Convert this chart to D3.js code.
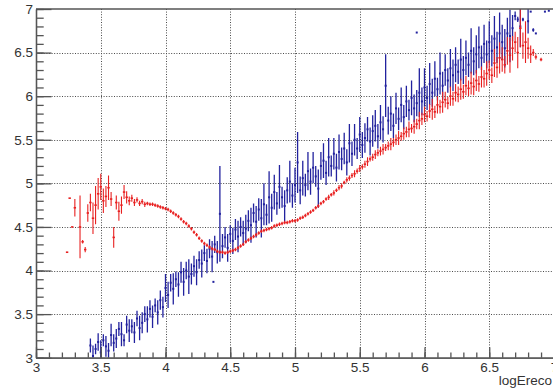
<!DOCTYPE html>
<html><head><meta charset="utf-8">
<script src="https://cdn.jsdelivr.net/npm/d3@7/dist/d3.min.js"></script>
<style>body{margin:0;background:#fff}svg{display:block}text{font-family:"Liberation Sans",Arial,Helvetica,sans-serif}</style>
</head><body>
<svg id="c" width="553" height="391"></svg>
<script>
// ---- axis ticks ----
const xTicks = [3, 3.5, 4, 4.5, 5, 5.5, 6, 6.5, 7];
const yTicks = [3, 3.5, 4, 4.5, 5, 5.5, 6, 6.5, 7];
const xTitle = "logEreco";

// ---- red series (bin centres start at 3.24, width 0.02) ----
const redStart = 3.24, redStep = 0.02;
const redY = [
 4.21,4.83,4.50,4.72,null,4.50,4.33,4.24,4.66,4.78,
 4.60,4.75,4.88,4.96,4.80,4.85,4.95,4.82,4.38,4.78,
 4.68,4.75,4.90,4.84,4.80,4.83,4.78,4.81,4.77,4.79,
 4.76,4.77,4.76,4.76,4.75,4.74,4.73,4.72,4.71,4.70,
 4.68,4.66,4.64,4.62,4.59,4.56,4.54,4.51,4.48,4.44,
 4.41,4.37,4.34,4.31,4.29,4.27,4.25,4.24,4.22,4.21,
 4.21,4.20,4.21,4.22,4.23,4.24,4.26,4.28,4.30,4.33,
 4.35,4.37,4.39,4.41,4.43,4.45,4.46,4.47,4.48,4.49,
 4.51,4.52,4.53,4.54,4.55,4.55,4.56,4.57,4.57,4.58,
 4.60,4.61,4.63,4.65,4.67,4.69,4.72,4.74,4.77,4.79,
 4.82,4.84,4.87,4.89,4.92,4.95,4.97,5.01,5.04,5.06,
 5.09,5.11,5.14,5.17,5.19,5.22,5.25,5.28,5.30,5.33,
 5.35,5.37,5.39,5.41,5.43,5.45,5.47,5.50,5.52,5.54,
 5.57,5.59,5.62,5.63,5.65,5.68,5.72,5.74,5.79,5.77,
 5.83,5.85,5.82,5.90,5.88,5.93,5.96,5.92,6.00,5.97,
 6.04,6.02,6.08,6.05,6.12,6.09,6.15,6.11,6.18,6.14,
 6.22,6.20,6.26,6.30,6.24,6.38,6.33,6.44,6.42,6.36,
 6.52,6.47,6.55,6.62,6.50,6.78,6.58,6.62,6.55,6.48,
 6.50,6.45,null,6.42
];
const redErr = [
 0,0,0,0.10,null,0.36,0.02,0.03,0.10,0.10,
 0.18,0.22,0.18,0.15,0.14,0.12,0.14,0.08,0.12,0.08,
 0.11,0.10,0.08,0.07,0.05,0.04,0.04,0.03,0.03,0.03,
 0.03,0.02,0.02,0.02,0.02,0.02,0.02,0.02,0.02,0.02,
 0.02,0.02,0.02,0.02,0.02,0.02,0.02,0.02,0.02,0.02,
 0.02,0.02,0.02,0.02,0.02,0.02,0.02,0.02,0.02,0.02,
 0.02,0.02,0.02,0.02,0.02,0.02,0.02,0.02,0.02,0.02,
 0.02,0.02,0.02,0.02,0.02,0.02,0.02,0.02,0.02,0.02,
 0.02,0.02,0.02,0.02,0.02,0.02,0.02,0.02,0.02,0.02,
 0.02,0.02,0.02,0.02,0.02,0.02,0.02,0.02,0.02,0.02,
 0.02,0.03,0.02,0.03,0.02,0.03,0.03,0.02,0.03,0.03,
 0.03,0.04,0.03,0.04,0.03,0.04,0.05,0.03,0.04,0.05,
 0.04,0.05,0.06,0.04,0.05,0.07,0.05,0.06,0.08,0.05,
 0.07,0.06,0.09,0.05,0.08,0.06,0.10,0.07,0.09,0.06,
 0.08,0.12,0.07,0.10,0.08,0.12,0.09,0.07,0.11,0.08,
 0.10,0.09,0.12,0.08,0.11,0.09,0.13,0.10,0.12,0.09,
 0.12,0.10,0.14,0.11,0.09,0.16,0.12,0.18,0.14,0.10,
 0.16,0.20,0.14,0.12,0.18,0.22,0.15,0.24,0.12,0.10,
 0.04,0.03,null,0.02
];

// ---- blue series (bin centres start at 3.42, width 0.02) ----
const blueStart = 3.42, blueStep = 0.02;
const blueY = [
 3.14,3.02,3.10,3.18,3.06,3.20,3.13,3.08,3.26,3.17,
 3.22,3.33,3.27,3.20,3.38,3.31,3.36,3.29,3.45,3.34,
 3.40,3.50,3.44,3.56,3.47,3.60,3.52,3.66,3.58,3.80,
 3.72,3.86,3.79,3.90,3.84,3.98,3.87,4.00,3.93,3.96,
 4.05,3.98,4.12,4.08,4.20,4.11,4.25,4.16,4.30,4.21,
 4.65,4.28,4.38,4.26,4.42,4.34,4.47,4.39,4.50,4.43,
 4.48,4.57,4.52,4.66,4.56,4.70,4.60,4.76,4.64,4.84,
 4.72,4.90,4.77,4.96,4.84,4.74,4.92,5.02,4.86,4.98,
 5.24,4.92,5.06,4.98,5.14,5.02,5.18,5.08,4.94,5.20,
 5.26,5.12,5.30,5.20,5.34,5.18,5.36,5.28,5.40,5.24,
 5.46,5.34,5.50,5.40,5.56,5.44,5.52,5.62,5.48,5.60,
 5.66,5.54,5.70,5.62,6.12,5.72,5.80,5.66,5.86,5.74,
 5.90,5.76,5.94,5.84,5.98,5.86,5.92,6.04,5.94,6.10,
 5.98,6.14,6.04,6.20,6.08,6.26,6.12,6.30,6.18,6.32,
 6.24,6.36,6.28,6.42,6.30,6.44,6.36,6.52,6.40,6.48,
 6.56,6.44,6.60,6.48,6.62,6.52,6.66,6.56,6.72,6.62,
 6.55,6.72,6.69,6.78,6.92,6.88,6.80,6.88,null,6.86,
 6.97,6.76,6.72,null,null
];
const blueErr = [
 0.08,0.12,0.06,0.10,0.14,0.07,0.12,0.09,0.13,0.10,
 0.11,0.08,0.14,0.07,0.10,0.13,0.08,0.12,0.09,0.14,
 0.12,0.09,0.15,0.10,0.13,0.08,0.14,0.11,0.12,0.16,
 0.15,0.10,0.18,0.09,0.14,0.12,0.16,0.10,0.20,0.12,
 0.12,0.15,0.10,0.16,0.09,0.14,0.11,0.18,0.10,0.13,
 0.55,0.14,0.12,0.16,0.10,0.15,0.12,0.18,0.11,0.14,
 0.16,0.12,0.20,0.11,0.18,0.13,0.22,0.24,0.12,0.30,
 0.16,0.20,0.13,0.25,0.12,0.18,0.15,0.24,0.14,0.20,
 0.35,0.16,0.20,0.13,0.22,0.15,0.18,0.12,0.22,0.16,
 0.20,0.14,0.22,0.12,0.18,0.16,0.20,0.13,0.18,0.15,
 0.22,0.14,0.18,0.12,0.20,0.15,0.17,0.14,0.16,0.18,
 0.18,0.14,0.20,0.15,0.36,0.16,0.20,0.14,0.18,0.13,
 0.20,0.14,0.18,0.12,0.20,0.16,0.15,0.28,0.16,0.22,
 0.14,0.24,0.16,0.20,0.13,0.24,0.16,0.18,0.14,0.22,
 0.18,0.20,0.14,0.24,0.16,0.20,0.14,0.26,0.16,0.22,
 0.24,0.14,0.22,0.16,0.24,0.18,0.26,0.18,0.24,0.20,
 0.22,0.18,0.30,0.15,0.05,0.03,0.24,0.02,null,0.14,
 0,0.02,0,null,null
];
// isolated blue points
const blueOutX = [4.37, 5.94, 6.93, 6.96];
const blueOutY = [3.87, 6.73, 6.97, 6.98];

// ---- drawing ----
const svg = d3.select("#c");
const x = d3.scaleLinear().domain([3, 7]).range([36, 554]);
const y = d3.scaleLinear().domain([3, 7]).range([357.7, 9]);

svg.append("defs").append("clipPath").attr("id", "clip")
  .append("rect").attr("x", 36).attr("y", 9).attr("width", 518).attr("height", 348.7);

// grid
const grid = svg.append("g").attr("stroke", "#4a4a4a").attr("stroke-width", 1)
  .attr("stroke-dasharray", "1,1.6").attr("fill", "none");
grid.selectAll("line.v").data(xTicks.filter(d => d > 3 && d < 7)).join("line")
  .attr("x1", d => Math.round(x(d)) + 0.5).attr("x2", d => Math.round(x(d)) + 0.5)
  .attr("y1", y(7)).attr("y2", y(3));
grid.selectAll("line.h").data(yTicks.filter(d => d > 3 && d < 7)).join("line")
  .attr("class", "h")
  .attr("y1", d => Math.round(y(d)) + 0.5).attr("y2", d => Math.round(y(d)) + 0.5)
  .attr("x1", x(3)).attr("x2", x(7));

function toPts(start, step, ys, es) {
  const out = [];
  ys.forEach((v, i) => { if (v !== null) out.push({x: start + step * i, y: v, e: es[i]}); });
  return out;
}
const red = toPts(redStart, redStep, redY, redErr);
const blue = toPts(blueStart, blueStep, blueY, blueErr);
const blueOut = blueOutX.map((v, i) => ({x: v, y: blueOutY[i], e: 0}));

const plot = svg.append("g").attr("clip-path", "url(#clip)");

function drawSeries(pts, color, lw, mw, mh) {
  const g = plot.append("g");
  g.selectAll("line").data(pts.filter(d => d.e > 0)).join("line")
    .attr("x1", d => x(d.x)).attr("x2", d => x(d.x))
    .attr("y1", d => y(d.y - d.e)).attr("y2", d => y(d.y + d.e))
    .attr("stroke", color).attr("stroke-width", lw);
  g.selectAll("rect").data(pts).join("rect")
    .attr("x", d => x(d.x) - mw / 2).attr("y", d => y(d.y) - mh / 2)
    .attr("width", mw).attr("height", mh).attr("fill", color);
}
drawSeries(blue, "#22229e", 1.3, 2, 2);
drawSeries(blueOut, "#22229e", 1.3, 2, 2);
drawSeries(red, "#e82020", 1.1, 2.4, 1.6);

// axes
const axCol = "#555";
const xMajor = d3.axisBottom(x).tickValues(xTicks).tickSize(-10.5).tickSizeOuter(0).tickPadding(5)
  .tickFormat(d3.format("~g"));
const xMinor = d3.axisBottom(x).tickValues(d3.range(30, 71).map(d => d / 10)).tickSize(-5.2).tickSizeOuter(0).tickFormat("");
const yMajor = d3.axisLeft(y).tickValues(yTicks).tickSize(-15.5).tickSizeOuter(0).tickPadding(3)
  .tickFormat(d3.format("~g"));
const yMinor = d3.axisLeft(y).tickValues(d3.range(30, 71).map(d => d / 10)).tickSize(-7.7).tickSizeOuter(0).tickFormat("");

function styleAxis(g) {
  g.selectAll("path,line").attr("stroke", axCol).attr("stroke-width", 1.3);
  g.selectAll("text").attr("fill", "#333").style("font-size", "13.5px")
    .style("font-family", '"Liberation Sans",Arial,sans-serif');
}
svg.append("g").attr("transform", `translate(0,${y(3)})`).call(xMinor).call(styleAxis);
svg.append("g").attr("transform", `translate(0,${y(3)})`).call(xMajor).call(styleAxis);
svg.append("g").attr("transform", `translate(${x(3)},0)`).call(yMinor).call(styleAxis);
svg.append("g").attr("transform", `translate(${x(3)},0)`).call(yMajor).call(styleAxis);

// top frame
svg.append("line").attr("x1", x(3)).attr("x2", x(7)).attr("y1", y(7)).attr("y2", y(7))
  .attr("stroke", axCol).attr("stroke-width", 1.5);

// axis title
svg.append("text").attr("x", 552).attr("y", 385).attr("text-anchor", "end")
  .attr("fill", "#333").style("font-size", "13.5px").text(xTitle);
</script>
</body></html>
